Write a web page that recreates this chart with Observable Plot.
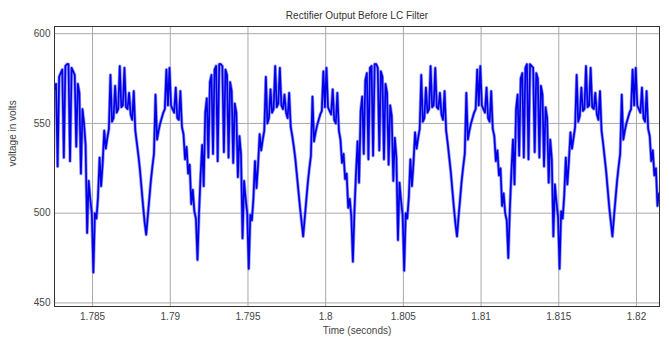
<!DOCTYPE html>
<html><head><meta charset="utf-8">
<script src="https://cdn.jsdelivr.net/npm/d3@7"></script>
<script src="https://cdn.jsdelivr.net/npm/@observablehq/plot@0.6"></script>
<style>body{margin:0;background:#fff;} #chart svg{display:block;}</style>
</head><body><div id="chart"></div>
<script>
const title = "Rectifier Output Before LC Filter";
const xLabel = "Time (seconds)";
const yLabel = "voltage in volts";
const tStart = 1.78255;
const tStep = 0.0001;
const xTicks = [1.785, 1.79, 1.795, 1.8, 1.805, 1.81, 1.815, 1.82];
const yTicks = [450, 500, 550, 600];
const volts = [
  569,572,526,576,578,580,531,582,583,583,529,581,579,577,537,572,567,522,558,550,538,489,518,508,500,
  467,500,497,509,531,515,528,546,536,542,547,577,551,553,571,556,558,582,559,560,581,559,558,567,555,552,568,546,539,532,524,514,504,495,
  488,498,508,518,526,533,566,541,546,550,553,556,558,580,560,581,560,558,556,570,553,552,568,548,544,530,537,522,527,505,513,501,497,
  474,500,521,538,515,556,564,531,573,577,533,580,582,529,583,583,582,534,580,577,531,573,568,528,561,556,520,543,533,486,518,508,500,
  469,499,496,508,529,514,527,544,535,541,546,576,550,553,569,556,558,582,559,561,581,560,558,566,556,553,567,548,543,537,530,521,512,503,495,
  487,497,507,517,525,532,565,540,545,549,552,555,557,579,559,581,559,557,555,569,552,550,567,546,541,528,533,519,522,503,508,498,
  473,501,522,540,517,557,565,533,574,578,530,581,582,532,583,583,581,535,579,576,530,572,567,527,560,554,518,542,531,485,517,507,499,
  468,500,497,509,530,515,528,545,536,542,547,577,551,553,570,556,558,582,559,560,581,559,558,567,555,552,568,546,539,531,523,513,503,494,
  487,498,508,518,526,533,567,541,546,550,553,556,558,580,560,582,560,558,556,570,553,551,568,547,543,529,535,521,525,504,511,500,496,
  475,502,523,541,516,558,566,532,575,578,531,581,583,530,583,582,581,534,578,575,531,571,566,526,559,553,517,541,530,487,516,506,498,
  469,501,497,510,531,516,529,545,536,542,548,577,551,554,570,557,558,582,559,560,581,559,558,567,555,552,568,546,539,531,523,513,503,495,
  487,498,508,518,526,533,566,541,546,550,553,556,558,580,560,581,560,558,556,570,553,551,568,547,543,529,535,521,525,504,511,505
];
const data = volts.map((v, i) => ({t: tStart + i * tStep, v}));
const fmt = d => String(+d.toFixed(3));

const chart = Plot.plot({
  width: 669, height: 354,
  marginLeft: 54, marginRight: 10, marginTop: 26, marginBottom: 48,
  style: {fontFamily: "'Liberation Sans', Arial, sans-serif", fontSize: "10px", color: "#444", background: "#fff"},
  x: {domain: [1.78255, 1.82148]},
  y: {domain: [448, 604]},
  marks: [
    Plot.gridX(xTicks, {stroke: "#aaa", strokeOpacity: 1}),
    Plot.gridY(yTicks, {stroke: "#aaa", strokeOpacity: 1}),
    Plot.lineY(data, {x: "t", y: "v", stroke: "#7070ff", strokeWidth: 3.2, strokeOpacity: 0.75, clip: true}),
    Plot.lineY(data, {x: "t", y: "v", stroke: "#0000e8", strokeWidth: 1.7, clip: true}),
    Plot.frame({stroke: "#333"}),
    Plot.axisX(xTicks, {tickSize: 0, tickPadding: 6, tickFormat: fmt, label: null, fill: "#444"}),
    Plot.axisY(yTicks, {tickSize: 0, tickPadding: 4, label: null, fill: "#444"}),
    Plot.text([title], {frameAnchor: "top", dy: -15, text: d => d, fill: "#333", fontSize: 10}),
    Plot.text([xLabel], {frameAnchor: "bottom", dy: 27, text: d => d, fill: "#444", fontSize: 10}),
    Plot.text([yLabel], {frameAnchor: "left", dx: -42, rotate: -90, text: d => d, fill: "#444", fontSize: 10})
  ]
});
document.getElementById("chart").append(chart);
</script>
</body></html>
